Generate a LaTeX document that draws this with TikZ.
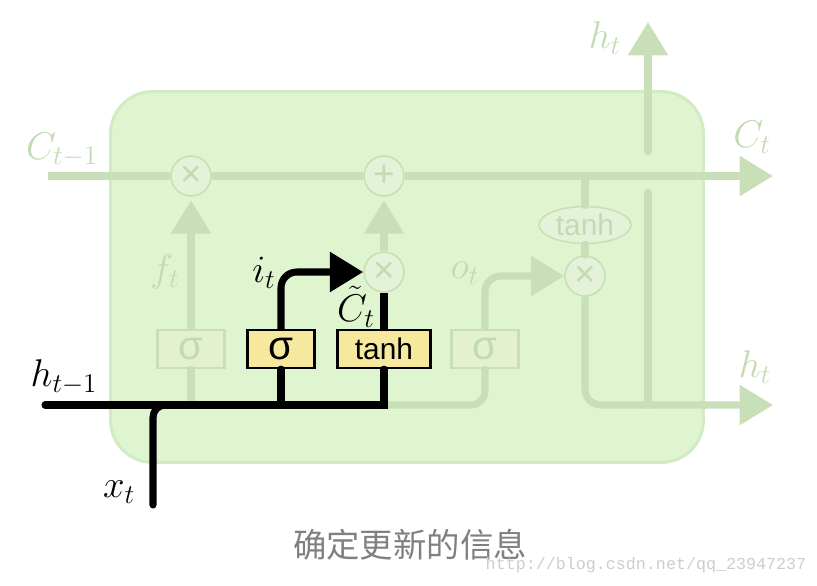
\RequirePackage{fix-cm}
\documentclass[tikz,border=0pt]{standalone}
\usepackage{amsmath}
\usepackage{fontspec}
\usepackage{tikz}
\usetikzlibrary{shapes.geometric, arrows.meta, positioning}
\newfontfamily\gatefont{Liberation Sans}
\newfontfamily\cjk{Noto Sans CJK SC}
\newfontfamily\wmfont{Liberation Mono}
\definecolor{cellgreen}{RGB}{223,245,208}
\definecolor{cellborder}{RGB}{210,235,194}
\definecolor{fade}{RGB}{200,223,184}
\definecolor{fadetext}{RGB}{194,219,178}
\definecolor{fadefill}{RGB}{227,242,216}
\definecolor{fadegatefill}{RGB}{228,241,206}
\definecolor{gateyellow}{RGB}{246,232,156}
\definecolor{capgrey}{RGB}{128,128,128}
\definecolor{wmgrey}{RGB}{205,205,205}
\newcommand{\vecfont}{\fontsize{22}{25}\selectfont}
\newcommand{\opfont}{\gatefont\fontsize{21}{21}\selectfont}
\tikzstyle{cell} = [rectangle, rounded corners=24pt, draw=cellborder, line width=1.7pt, fill=cellgreen, minimum width=11.86cm, minimum height=7.42cm]
\tikzstyle{gate} = [rectangle, draw=black, line width=1.3pt, fill=gateyellow, minimum width=1.34cm, minimum height=0.76cm, inner sep=0pt, font=\gatefont\fontsize{17}{17}\selectfont]
\tikzstyle{fadegate} = [gate, draw=fade, fill=fadegatefill, text=fadetext]
\tikzstyle{pointop} = [circle, draw=fade, line width=0.9pt, fill=fadefill, text=fadetext, minimum size=0.8cm, inner sep=0pt, font=\opfont]
\tikzstyle{fadeoval} = [ellipse, draw=fade, line width=0.9pt, fill=fadefill, text=fadetext, minimum width=1.84cm, minimum height=0.74cm, inner sep=0pt, font=\gatefont\fontsize{17}{17}\selectfont]
\tikzstyle{vecname} = [font=\vecfont, inner sep=0pt]
\tikzstyle{fadename} = [vecname, text=fadetext]
\tikzstyle{bline} = [line width=4pt, draw=black, line cap=round]
\tikzstyle{barrow} = [bline, line cap=butt, -{Triangle[length=19pt,width=22pt]}]
\tikzstyle{fline} = [line width=4pt, draw=fade, line cap=round]
\tikzstyle{farrow} = [fline, line cap=butt, -{Triangle[length=19pt,width=22pt]}]
\begin{document}
\begin{tikzpicture}[x=0.02cm, y=-0.02cm]
        \useasboundingbox (0,0) rectangle (817,585);
        \node (cell) [cell] at (407,277) {};

        % pointwise ops and gates
        \node (mf) [pointop] at (191,176) {×};
        \node (add) [pointop] at (384,176) {+};
        \node (mi) [pointop] at (384,272) {×};
        \node (mo) [pointop] at (585,276) {×};
        \node (tanho) [fadeoval] at (585,225) {tanh};
        \node (sigf) [fadegate] at (191,349) {\fontsize{23}{23}\selectfont σ};
        \node (sigi) [gate] at (281,349) {\fontsize{23}{23}\selectfont σ};
        \node (tanhi) [gate, minimum width=1.86cm] at (384,349) {tanh};
        \node (sigo) [fadegate] at (485,349) {\fontsize{23}{23}\selectfont σ};

        % free ends
        \coordinate (cin) at (48,176);
        \coordinate (cout) at (773,176);
        \coordinate (hin) at (45,405);
        \coordinate (xin) at (153,505);
        \coordinate (hout) at (773,405);
        \coordinate (hup) at (648,22);
        \coordinate (gapb) at (648,192);
        \coordinate (gapt) at (648,152);

        % labels
        \node (lct1) [fadename] at (62,150) {$C_{t-1}$};
        \node (lft) [fadename] at (165,272) {$f_t$};
        \node (lit) [vecname] at (264,273) {$i_t$};
        \node (lctil) [vecname] at (356,307) {$\tilde{C}_t$};
        \node (lot) [fadename] at (465,273) {$o_t$};
        \node (lht1) [vecname] at (64,377) {$h_{t-1}$};
        \node (lxt) [vecname] at (119,492) {$x_t$};
        \node (lhtup) [fadename] at (605,38) {$h_t$};
        \node (lct) [fadename] at (752,137) {$C_t$};
        \node (lhtr) [fadename] at (755,367) {$h_t$};
        \node (caption) [font=\cjk\fontsize{19}{19}\selectfont, text=capgrey] at (410,545) {确定更新的信息};
        \node (wm) [font=\wmfont\fontsize{9.5}{9.5}\selectfont, text=wmgrey] at (646,565) {http://blog.csdn.net/qq\_23947237};

        % faded connectors
        \draw [farrow] (cin) -- (mf) -- (add) -- (cout);
        \draw [fline] (sigf.south |- hin) -- (sigf);
        \draw [farrow, shorten >=2pt] (sigf) -- (mf);
        \draw [farrow, shorten >=2pt] (mi) -- (add);
        \draw [fline, rounded corners=8pt] (tanhi.south |- hin) -| (sigo);
        \draw [farrow, rounded corners=9pt] (sigo) |- (mo);
        \draw [fline] (tanho |- cout) -- (tanho);
        \draw [fline] (tanho) -- (mo);
        \draw [farrow, rounded corners=9pt] (mo) |- (hout);
        \draw [fline] (hout -| hup) -- (gapb);
        \draw [farrow, line cap=round] (gapt) -- (hup);

        % highlighted input path
        \draw [bline] (hin) -| (tanhi);
        \draw [bline] (sigi.south |- hin) -- (sigi);
        \draw [bline, rounded corners=7pt] (xin) |- (sigi.south |- hin);
        \draw [barrow, rounded corners=9pt] (sigi) |- (mi);
        \draw [bline, line cap=butt] (tanhi) -- (mi);

        \end{tikzpicture}
\end{document}
